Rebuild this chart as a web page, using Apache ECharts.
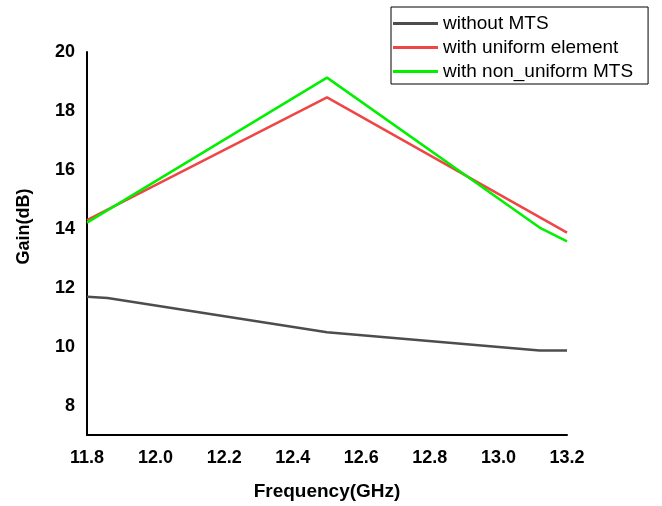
<!DOCTYPE html>
<html>
<head>
<meta charset="utf-8">
<script src="https://cdn.jsdelivr.net/npm/echarts@6/dist/echarts.min.js"></script>
<style>html,body{margin:0;padding:0;background:#fff;}#c{width:662px;height:506px;}</style>
</head>
<body>
<div id="c"></div>
<script>
const seriesNames = ['without MTS', 'with uniform element', 'with non_uniform MTS'];
const freqWithout = [11.8, 11.86, 12.5, 13.12, 13.2];
const gainWithout = [11.69, 11.65, 10.49, 9.87, 9.87];
const freqUniform = [11.8, 12.5, 13.2];
const gainUniform = [14.29, 18.46, 13.87];
const freqNonUniform = [11.8, 12.5, 13.12, 13.2];
const gainNonUniform = [14.21, 19.13, 14.04, 13.57];
const yTickLabels = [8, 10, 12, 14, 16, 18, 20];

const pair = (xs, ys) => xs.map((x, i) => [x, ys[i]]);
const font = 'Liberation Sans, Arial, sans-serif';
const chart = echarts.init(document.getElementById('c'));
chart.setOption({
  animation: false,
  backgroundColor: '#fff',
  grid: {left: 87, right: 95, top: 52, bottom: 70},
  legend: {
    orient: 'vertical', left: 391, top: 7,
    backgroundColor: '#fff', borderColor: '#000', borderWidth: 1,
    padding: [7, 15, 3, 2],
    icon: 'rect', itemWidth: 45, itemHeight: 3, itemGap: 5,
    textStyle: {fontFamily: font, fontSize: 19, color: '#000', lineHeight: 19},
    data: seriesNames
  },
  xAxis: {
    type: 'value', min: 11.8, max: 13.2, interval: 0.2,
    name: 'Frequency(GHz)', nameLocation: 'middle', nameGap: 47,
    nameTextStyle: {fontFamily: font, fontSize: 19, fontWeight: 'bold', color: '#000'},
    axisLine: {show: true, lineStyle: {color: '#000', width: 2}},
    axisTick: {show: false}, splitLine: {show: false},
    axisLabel: {fontFamily: font, fontSize: 18, fontWeight: 'bold', color: '#000', margin: 14,
      formatter: v => v.toFixed(1)}
  },
  yAxis: {
    type: 'value', min: 7, max: 20, interval: 1,
    name: 'Gain(dB)', nameLocation: 'middle', nameGap: 54,
    nameTextStyle: {fontFamily: font, fontSize: 18, fontWeight: 'bold', color: '#000', padding: [0, 0, 0, 34]},
    axisLine: {show: true, lineStyle: {color: '#000', width: 2}},
    axisTick: {show: false}, splitLine: {show: false},
    axisLabel: {fontFamily: font, fontSize: 18, fontWeight: 'bold', color: '#000', margin: 12,
      formatter: v => yTickLabels.indexOf(Math.round(v)) >= 0 && Math.abs(v - Math.round(v)) < 1e-6 ? String(Math.round(v)) : ''}
  },
  series: [
    {name: seriesNames[0], type: 'line', data: pair(freqWithout, gainWithout), showSymbol: false,
      lineStyle: {color: '#4d4d4d', width: 2.5}, itemStyle: {color: '#4d4d4d'}},
    {name: seriesNames[1], type: 'line', data: pair(freqUniform, gainUniform), showSymbol: false,
      lineStyle: {color: '#f04545', width: 2.5}, itemStyle: {color: '#f04545'}},
    {name: seriesNames[2], type: 'line', data: pair(freqNonUniform, gainNonUniform), showSymbol: false,
      lineStyle: {color: '#00f000', width: 2.5}, itemStyle: {color: '#00f000'}}
  ]
});
</script>
</body>
</html>
